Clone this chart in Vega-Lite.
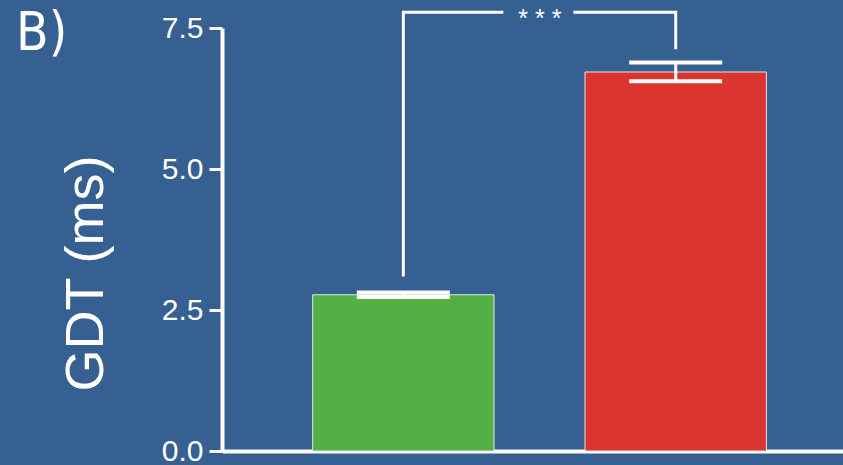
{
  "$schema": "https://vega.github.io/schema/vega-lite/v6.json",
  "width": 621,
  "height": 423,
  "autosize": {"type": "none"},
  "padding": {"left": 222, "top": 28, "right": 0, "bottom": 14},
  "background": "#356091",
  "title": {
    "text": "B)",
    "anchor": "start",
    "frame": "group",
    "orient": "top",
    "baseline": "alphabetic",
    "offset": 0,
    "dx": -206,
    "dy": 96,
    "fontSize": 53,
    "font": "DejaVu Sans Condensed, Liberation Sans",
    "fontWeight": "normal",
    "color": "white"
  },
  "config": {
    "view": {"stroke": null},
    "axis": {
      "domainColor": "white",
      "domainWidth": 4,
      "tickColor": "white",
      "tickWidth": 3,
      "tickSize": 13,
      "labelColor": "white",
      "labelFontSize": 30,
      "labelFont": "Liberation Sans",
      "labelPadding": 6,
      "grid": false,
      "titleColor": "white",
      "titleFontSize": 54,
      "titleFont": "Liberation Sans",
      "titleFontWeight": "normal"
    }
  },
  "datasets": {
    "bars": [
      {"group": "A", "mean": 2.77, "lo": 2.73, "hi": 2.81},
      {"group": "B", "mean": 6.72, "lo": 6.555, "hi": 6.89}
    ],
    "bracketV": [
      {"group": "A", "y1": 3.12, "y2": 7.78},
      {"group": "B", "y1": 7.15, "y2": 7.78}
    ],
    "bracketH": [
      {"from": "A", "to": "B", "y": 7.78, "label": "* * *"}
    ]
  },
  "layer": [
    {
      "data": {"name": "bars"},
      "mark": {"type": "bar", "stroke": "#e6e6e6", "strokeWidth": 1},
      "encoding": {
        "x": {
          "field": "group",
          "type": "nominal",
          "scale": {"domain": ["A", "B"], "paddingInner": 0.334, "paddingOuter": 0.307, "align": 0.542},
          "axis": {"title": null, "labels": false, "ticks": false, "domainWidth": 4}
        },
        "y": {
          "field": "mean",
          "type": "quantitative",
          "scale": {"domain": [0, 7.5], "nice": false},
          "axis": {
            "values": [0, 2.5, 5, 7.5],
            "format": ".1f",
            "title": "GDT (ms)",
            "titleX": -120,
            "titleY": 245,
            "titleAlign": "center",
            "titleBaseline": "alphabetic",
            "titleAngle": -90
          }
        },
        "color": {
          "field": "group",
          "type": "nominal",
          "scale": {"domain": ["A", "B"], "range": ["#52b044", "#dc342f"]},
          "legend": null
        }
      }
    },
    {
      "data": {"name": "bars"},
      "mark": {"type": "rule", "color": "white", "strokeWidth": 3},
      "encoding": {
        "x": {"field": "group", "type": "nominal"},
        "y": {"field": "lo", "type": "quantitative"},
        "y2": {"field": "hi"}
      }
    },
    {
      "data": {"name": "bars"},
      "mark": {"type": "tick", "color": "white", "size": 93, "thickness": 4, "opacity": 1},
      "encoding": {
        "x": {"field": "group", "type": "nominal"},
        "y": {"field": "hi", "type": "quantitative"}
      }
    },
    {
      "data": {"name": "bars"},
      "mark": {"type": "tick", "color": "white", "size": 93, "thickness": 4, "opacity": 1},
      "encoding": {
        "x": {"field": "group", "type": "nominal"},
        "y": {"field": "lo", "type": "quantitative"}
      }
    },
    {
      "data": {"name": "bracketV"},
      "mark": {"type": "rule", "color": "white", "strokeWidth": 3, "strokeCap": "square"},
      "encoding": {
        "x": {"field": "group", "type": "nominal"},
        "y": {"field": "y1", "type": "quantitative"},
        "y2": {"field": "y2"}
      }
    },
    {
      "data": {"name": "bracketH"},
      "mark": {"type": "rule", "color": "white", "strokeWidth": 3, "strokeDash": [100, 70, 110]},
      "encoding": {
        "x": {"field": "from", "type": "nominal"},
        "x2": {"field": "to"},
        "y": {"field": "y", "type": "quantitative"}
      }
    },
    {
      "data": {"name": "bracketH"},
      "mark": {"type": "text", "color": "white", "fontSize": 25, "font": "Liberation Sans", "baseline": "alphabetic", "align": "center", "xOffset": 136.5, "dy": 15},
      "encoding": {
        "x": {"field": "from", "type": "nominal"},
        "y": {"field": "y", "type": "quantitative"},
        "text": {"field": "label"}
      }
    }
  ]
}
